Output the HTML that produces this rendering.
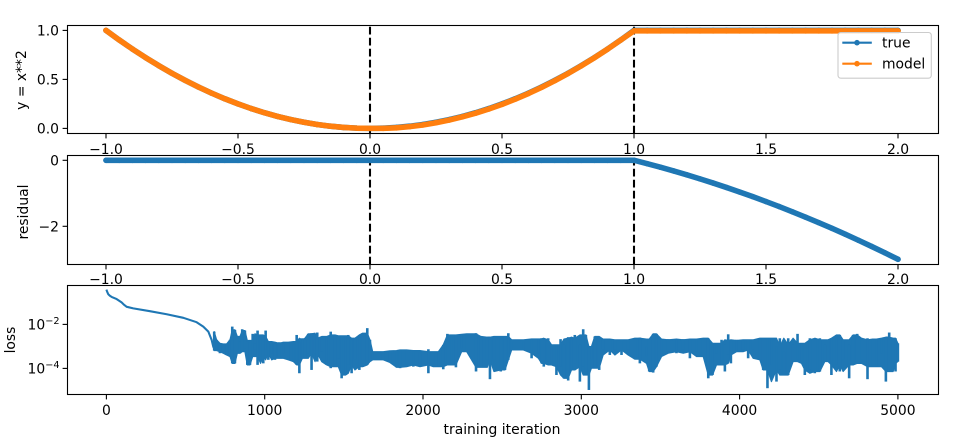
<!DOCTYPE html>
<html lang="en">
<head>
<meta charset="utf-8">
<title>Model fit, residual and training loss</title>
<style>
html,body{margin:0;padding:0;background:#fff;}
svg{display:block;}
text{font-family:"DejaVu Sans",sans-serif;font-size:13.9px;fill:#000;}
</style>
</head>
<body>
<svg id="chart" xmlns="http://www.w3.org/2000/svg" width="973" height="442" viewBox="0 0 973 442"></svg>
<script>
const xValues = [-1,-0.95,-0.9,-0.85,-0.8,-0.75,-0.7,-0.65,-0.6,-0.55,-0.5,-0.45,-0.4,-0.35,-0.3,-0.25,-0.2,-0.15,-0.1,-0.05,0,0.05,0.1,0.15,0.2,0.25,0.3,0.35,0.4,0.45,0.5,0.55,0.6,0.65,0.7,0.75,0.8,0.85,0.9,0.95,1,1.05,1.1,1.15,1.2,1.25,1.3,1.35,1.4,1.45,1.5,1.55,1.6,1.65,1.7,1.75,1.8,1.85,1.9,1.95,2];
const trueValues = [1,0.9025,0.81,0.7225,0.64,0.5625,0.49,0.4225,0.36,0.3025,0.25,0.2025,0.16,0.1225,0.09,0.0625,0.04,0.0225,0.01,0.0025,0,0.0025,0.01,0.0225,0.04,0.0625,0.09,0.1225,0.16,0.2025,0.25,0.3025,0.36,0.4225,0.49,0.5625,0.64,0.7225,0.81,0.9025,1,1,1,1,1,1,1,1,1,1,1,1,1,1,1,1,1,1,1,1,1];
const modelValues = [1,0.9025,0.81,0.7225,0.64,0.5625,0.49,0.4225,0.36,0.3025,0.25,0.2025,0.16,0.1225,0.09,0.0625,0.04,0.0225,0.01,0.0025,0,0,0.006,0.018,0.035,0.058,0.085,0.118,0.155,0.198,0.245,0.298,0.356,0.419,0.487,0.56,0.638,0.721,0.809,0.902,0.995,0.995,0.995,0.995,0.995,0.995,0.995,0.995,0.995,0.995,0.995,0.995,0.995,0.995,0.995,0.995,0.995,0.995,0.995,0.995,0.995];
const residualValues = [0,0,0,0,0,0,0,0,0,0,0,0,0,0,0,0,0,0,0,0,0,0,0,0,0,0,0,0,0,0,0,0,0,0,0,0,0,0,0,0,0,-0.1025,-0.21,-0.3225,-0.44,-0.5625,-0.69,-0.8225,-0.96,-1.1025,-1.25,-1.4025,-1.56,-1.7225,-1.89,-2.0625,-2.24,-2.4225,-2.61,-2.8025,-3];
const xTickValues = [-1,-0.5,0,0.5,1,1.5,2];
const xTickLabels = ["\u22121.0","\u22120.5","0.0","0.5","1.0","1.5","2.0"];
const topTickValues = [0,0.5,1];
const topTickLabels = ["0.0","0.5","1.0"];
const residualTickValues = [0,-2];
const residualTickLabels = ["0","\u22122"];
const markerLines = [0,1];
const iterTickValues = [0,1000,2000,3000,4000,5000];
const iterTickLabels = ["0","1000","2000","3000","4000","5000"];
const lossTickExponents = [-2,-4];
const lossTickLabels = ["\u22122","\u22124"];
const lossCurveIter = [0,5,12,22,33,65,96,112,128,170,275,381,486,570,612,644,665,675,685];
const lossCurveExp = [-0.42,-0.52,-0.63,-0.70,-0.75,-0.85,-1.0,-1.11,-1.2,-1.27,-1.40,-1.54,-1.70,-1.90,-2.10,-2.33,-2.71,-3.01,-3.16];
const lossIter = [681,696,717,738,759,781,795,812,827,844,858,875,890,907,924,938,955,974,991,1006,1023,1044,1065,1092,1118,1149,1181,1202,1219,1238,1254,1275,1296,1318,1332,1360,1391,1417,1444,1465,1486,1511,1528,1549,1570,1598,1619,1648,1665,1682,
1749,1791,1833,1855,1897,1939,1981,2034,2065,2097,2128,2154,2181,2208,2244,2276,2335,2366,2406,2423,2448,2491,2518,2539,2560,2634,2686,2729,
2749,2763,2791,2812,2843,2869,2890,2917,2938,2959,2991,3012,3029,3048,3064,3085,3113,3138,3180,3212,3254,3296,3338,3370,3412,3429,3454,3475,3507,3549,3601,3644,3686,3728,3770,3802,3829,3854,
3886,3907,3928,3945,3980,4022,4054,4086,4128,4149,4176,4201,4233,4254,4279,4307,4338,4366,4391,4412,4444,4475,4507,4538,4559,4580,4612,4633,4654,4692,4717,4743,4770,4808,4840,4865,4896,4924,4945,4970,4985,5000];
const lossHighExp = [-2.33,-2.70,-2.86,-2.93,-2.89,-2.70,-2.10,-2.25,-2.55,-2.78,-2.22,-2.28,-2.78,-2.73,-2.43,-2.86,-2.28,-2.48,-2.55,-2.28,-2.78,-2.78,-2.86,-2.81,-2.86,-2.81,-2.78,-2.48,-2.78,-2.63,-2.70,-2.43,-2.40,-2.70,-2.37,-2.63,-2.55,-2.33,-2.48,-2.52,-2.52,-2.52,-2.48,-2.70,-2.63,-2.48,-2.40,-2.17,-2.70,-3.24,
-3.27,-3.20,-3.19,-3.16,-3.16,-3.19,-3.24,-3.13,-3.24,-3.24,-2.93,-2.43,-2.48,-2.48,-2.45,-2.43,-2.40,-2.55,-2.58,-2.70,-2.55,-2.55,-2.55,-2.40,-2.70,-2.70,-2.66,-2.66,
-2.63,-2.70,-2.63,-2.93,-2.93,-2.67,-2.93,-2.58,-2.63,-2.48,-2.93,-2.22,-2.48,-3.01,-3.01,-2.55,-2.55,-2.67,-2.67,-2.70,-2.70,-2.70,-2.63,-2.60,-3.01,-2.67,-2.43,-2.43,-2.70,-2.67,-2.70,-2.67,-2.70,-2.67,-2.63,-2.63,-2.86,-2.86,
-2.70,-2.93,-2.45,-2.73,-2.70,-2.73,-2.70,-2.70,-2.63,-2.63,-2.63,-2.63,-3.01,-2.63,-3.24,-2.63,-2.93,-2.43,-2.86,-2.93,-2.63,-2.70,-2.63,-2.93,-2.70,-2.63,-2.48,-2.48,-2.70,-2.93,-2.48,-2.43,-2.70,-2.63,-2.70,-2.67,-2.63,-2.58,-2.37,-2.63,-2.63,-2.86];
const lossLowExp = [-3.19,-3.19,-3.31,-3.24,-3.39,-3.46,-3.77,-3.77,-3.31,-3.31,-3.24,-3.08,-3.84,-3.84,-3.46,-3.16,-3.84,-3.46,-3.77,-3.16,-3.61,-3.31,-3.61,-3.54,-3.31,-3.61,-3.69,-3.84,-4.22,-3.54,-3.54,-3.31,-4.07,-3.31,-3.69,-3.24,-3.84,-3.99,-3.92,-3.54,-4.45,-4.30,-3.84,-4.22,-3.61,-4.07,-3.92,-3.84,-3.69,-3.61,
-3.61,-3.73,-3.95,-3.99,-3.84,-3.92,-3.84,-4.22,-3.77,-3.92,-4.04,-3.84,-3.84,-3.95,-3.08,-3.24,-4.14,-3.95,-3.61,-4.49,-3.61,-4.14,-4.07,-3.61,-3.16,-3.13,-3.54,-3.31,
-3.77,-3.92,-3.69,-3.84,-4.30,-3.92,-4.45,-4.55,-4.07,-3.77,-4.60,-3.92,-4.30,-4.98,-3.61,-3.99,-4.07,-3.16,-3.39,-3.16,-3.39,-3.16,-3.58,-3.77,-3.46,-4.14,-4.19,-3.92,-3.46,-3.24,-3.31,-3.16,-3.54,-3.24,-3.46,-4.45,-4.30,-3.31,
-3.84,-4.14,-3.39,-3.77,-3.24,-3.16,-3.54,-3.13,-3.61,-4.07,-4.90,-3.84,-4.60,-4.07,-4.30,-4.30,-3.69,-3.61,-3.77,-4.30,-4.07,-4.22,-4.14,-3.69,-3.69,-4.30,-3.84,-4.14,-3.61,-4.45,-3.84,-3.77,-3.61,-4.49,-3.92,-3.92,-3.31,-4.60,-4.14,-3.77,-4.14,-3.69];

const svg = document.getElementById('chart');
const NS = 'http://www.w3.org/2000/svg';
const LEFT = 67.5, RIGHT = 938.5, TICK = 4.9;
const BLUE = '#1f77b4', ORANGE = '#ff7f0e';

const xAxis = v => 370 + v * 264;
const iterAxis = v => 106.4 + v * 0.1583;
const yTop = v => 128.4 - v * 98;
const yResidual = v => 160.3 - v * 33;
const yLoss = e => 324.4 + (-2 - e) * 22;

function make(parent, tag, attrs, text) {
  const el = document.createElementNS(NS, tag);
  for (const k in attrs) el.setAttribute(k, attrs[k]);
  if (text !== undefined) el.textContent = text;
  parent.appendChild(el);
  return el;
}

function linePath(xs, ys, fx, fy) {
  return xs.map((x, i) => (i ? 'L' : 'M') + fx(x).toFixed(2) + ' ' + fy(ys[i]).toFixed(2)).join('');
}

function median3(arr, i) {
  const a = arr[Math.max(i - 1, 0)], b = arr[i], c = arr[Math.min(i + 1, arr.length - 1)];
  return [a, b, c].sort((p, q) => p - q)[1];
}

function addPanel(name, top, bottom) {
  const g = make(svg, 'g', {});
  
  
  const bg = make(g, 'rect', {x: LEFT, y: top, width: RIGHT - LEFT, height: bottom - top, fill: '#fff'});
  
  
  const clip = make(g, 'clipPath', {id: name + '-clip'});
  make(clip, 'rect', {x: LEFT, y: top, width: RIGHT - LEFT, height: bottom - top});
  const plot = make(g, 'g', {'clip-path': 'url(#' + name + '-clip)'});
  
  
  return {g, plot, top, bottom};
}

function addFrame(panel) {
  const frame = make(panel.g, 'rect', {x: LEFT, y: panel.top, width: RIGHT - LEFT, height: panel.bottom - panel.top, fill: 'none', stroke: '#000', 'stroke-width': 1.1});
  
  
}

function addXTicks(panel, values, labels, fx, baseline) {
  values.forEach((v, i) => {
    const t = make(panel.g, 'line', {x1: fx(v), x2: fx(v), y1: panel.bottom, y2: panel.bottom + TICK, stroke: '#000', 'stroke-width': 1.1});
    
    
    const l = make(panel.g, 'text', {x: fx(v), y: baseline, 'text-anchor': 'middle'}, labels[i]);
    
    
  });
}

function addYTicks(panel, values, labels, fy) {
  values.forEach((v, i) => {
    const t = make(panel.g, 'line', {x1: LEFT - TICK, x2: LEFT, y1: fy(v), y2: fy(v), stroke: '#000', 'stroke-width': 1.1});
    
    
    const l = make(panel.g, 'text', {x: 59, y: fy(v) + 5.1, 'text-anchor': 'end'}, labels[i]);
    
    
  });
}

function addYTitle(panel, text, x, y, name) {
  const l = make(panel.g, 'text', {x: x, y: y, 'text-anchor': 'middle', transform: 'rotate(-90 ' + x + ' ' + y + ')'}, text);
  
  
}

function addVLines(panel) {
  markerLines.forEach(v => {
    const d = make(panel.plot, 'line', {x1: xAxis(v), x2: xAxis(v), y1: panel.bottom, y2: panel.top, stroke: '#000', 'stroke-width': 2.08, 'stroke-dasharray': '7.7 3.3'});
    
    
  });
}

function addMarkerSeries(panel, xs, ys, fy, color, name) {
  const s = make(panel.plot, 'g', {});
  
  
  make(s, 'path', {d: linePath(xs, ys, xAxis, fy), fill: 'none', stroke: color, 'stroke-width': 5.56, 'stroke-linecap': 'round', 'stroke-linejoin': 'round'});
  xs.forEach((x, i) => {
    make(s, 'circle', {cx: xAxis(x), cy: fy(ys[i]), r: 2.78, fill: color});
  });
}

/* top panel */
const p1 = addPanel('function-panel', 25.5, 133.5);
addVLines(p1);
addMarkerSeries(p1, xValues, trueValues, yTop, BLUE, 'true-series');
addMarkerSeries(p1, xValues, modelValues, yTop, ORANGE, 'model-series');
addFrame(p1);
addYTicks(p1, topTickValues, topTickLabels, yTop);
addXTicks(p1, xTickValues, xTickLabels, xAxis, 154);
addYTitle(p1, 'y = x**2', 26, 80, 'y-axis-title');

/* legend */
const legend = make(p1.g, 'g', {});


make(legend, 'rect', {x: 838, y: 32.5, width: 93.3, height: 45.7, rx: 2.8, fill: '#fff', 'fill-opacity': 0.8, stroke: '#ccc', 'stroke-width': 1.1});
const legendNames = ['true', 'model'];
const legendColors = [BLUE, ORANGE];
legendNames.forEach((n, i) => {
  const y = 42.7 + i * 21;
  const e = make(legend, 'g', {});
  
  
  make(e, 'line', {x1: 842.3, x2: 871.8, y1: y, y2: y, stroke: legendColors[i], 'stroke-width': 2.08});
  make(e, 'circle', {cx: 857, cy: y, r: 2.78, fill: legendColors[i]});
  make(e, 'text', {x: 882, y: y + 5}, n);
});

/* residual panel */
const p2 = addPanel('residual-panel', 155.5, 264.5);
addVLines(p2);
addMarkerSeries(p2, xValues, residualValues, yResidual, BLUE, 'residual-series');
addFrame(p2);
addYTicks(p2, residualTickValues, residualTickLabels, yResidual);
addXTicks(p2, xTickValues, xTickLabels, xAxis, 284);
addYTitle(p2, 'residual', 28, 212, 'residual-axis-title');

/* loss panel */
const p3 = addPanel('loss-panel', 285.5, 394.5);
const curve = make(p3.plot, 'path', {d: linePath(lossCurveIter, lossCurveExp, iterAxis, yLoss), fill: 'none', stroke: BLUE, 'stroke-width': 2.08, 'stroke-linejoin': 'round'});


const coreHigh = lossHighExp.map((_, i) => median3(lossHighExp, i));
const coreLow = lossLowExp.map((_, i) => median3(lossLowExp, i));
const revIter = lossIter.slice().reverse();
const revLow = coreLow.slice().reverse();
const band = make(p3.plot, 'path', {
  d: linePath(lossIter, coreHigh, iterAxis, yLoss) + linePath(revIter, revLow, iterAxis, yLoss).replace('M', 'L') + 'Z',
  fill: BLUE, stroke: BLUE, 'stroke-width': 1.2, 'stroke-linejoin': 'round'
});


const spikes = make(p3.plot, 'g', {});


lossIter.forEach((it, i) => {
  make(spikes, 'line', {x1: iterAxis(it), x2: iterAxis(it), y1: yLoss(lossHighExp[i]), y2: yLoss(lossLowExp[i]), stroke: BLUE, 'stroke-width': 2.6});
});
addFrame(p3);
addXTicks(p3, iterTickValues, iterTickLabels, iterAxis, 415);
lossTickExponents.forEach((e, i) => {
  const y = yLoss(e);
  const t = make(p3.g, 'line', {x1: LEFT - TICK, x2: LEFT, y1: y, y2: y, stroke: '#000', 'stroke-width': 1.1});
  
  
  const l = make(p3.g, 'text', {x: 59.5, y: y + 5.3, 'text-anchor': 'end'});
  
  
  make(l, 'tspan', {}, '10');
  make(l, 'tspan', {dy: -5.5, 'font-size': '9.7px'}, lossTickLabels[i]);
});
addYTitle(p3, 'loss', 15, 340, 'loss-axis-title');
const xt = make(p3.g, 'text', {x: 502, y: 434, 'text-anchor': 'middle'}, 'training iteration');


</script>
</body>
</html>
